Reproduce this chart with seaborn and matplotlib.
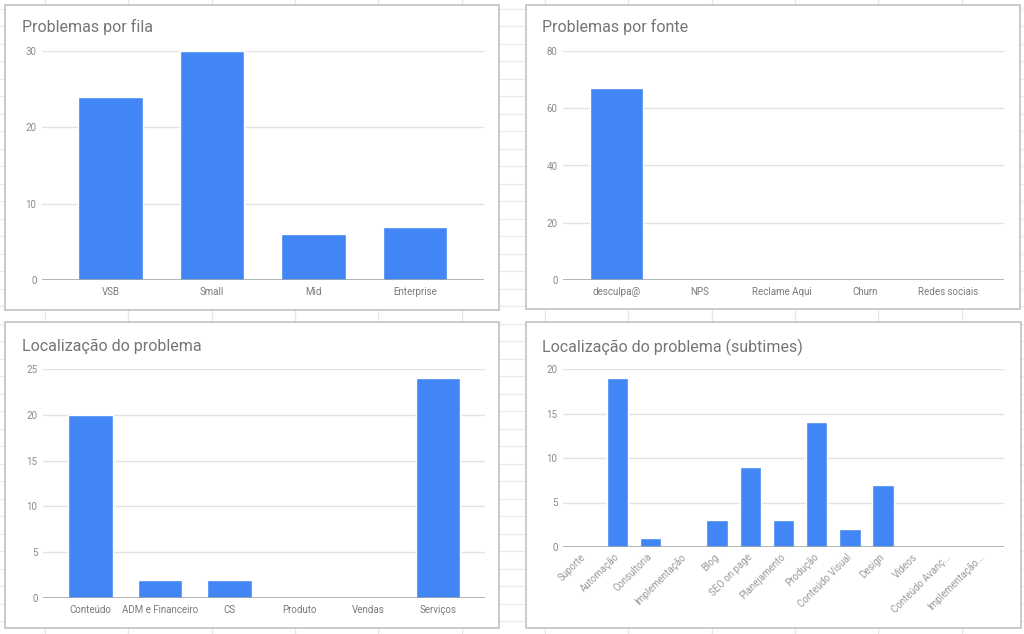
import matplotlib
matplotlib.use("Agg")
import matplotlib.pyplot as plt
import seaborn as sns
from matplotlib.patches import Rectangle

# ---------------- data ----------------
fila_cats = ["VSB", "Small", "Mid", "Enterprise"]
fila_vals = [24, 30, 6, 7]

fonte_cats = ["desculpa@", "NPS", "Reclame Aqui", "Churn", "Redes sociais"]
fonte_vals = [67, 0, 0, 0, 0]

local_cats = ["Conteúdo", "ADM e Financeiro", "CS", "Produto", "Vendas", "Serviços"]
local_vals = [20, 2, 2, 0, 0, 24]

sub_cats = ["Suporte", "Automação", "Consultoria", "Implementação", "Blog",
            "SEO on page", "Planejamento", "Produção", "Conteúdo Visual",
            "Design", "Vídeos", "Conteúdo Avanç...", "Implementação..."]
sub_vals = [0, 19, 1, 0, 3, 9, 3, 14, 2, 7, 0, 0, 0]

titles = ["Problemas por fila", "Problemas por fonte",
          "Localização do problema", "Localização do problema (subtimes)"]

# ---------------- style ----------------
sns.set_theme(style="white")
plt.rcParams["font.family"] = ["Roboto", "DejaVu Sans"]

W, H = 1024, 634
fig = plt.figure(figsize=(W / 100, H / 100), dpi=100)
fig.patch.set_facecolor("white")

BAR = "#4285F4"
GRID = "#e3e3e3"
ZERO = "#9aa0a6"
TICK = "#8a8a8a"
TITLE = "#757575"

# background spreadsheet layer
bg = fig.add_axes([0, 0, 1, 1])
bg.set_xlim(0, W)
bg.set_ylim(H, 0)
bg.axis("off")
for k in range(13):
    x = 45 + 83.33 * k
    bg.plot([x, x], [0, H], color="#e6e6e6", lw=0.9, zorder=0)
for k in range(37):
    y = 8.5 + 17.5 * k
    bg.plot([0, W], [y, y], color="#ebebeb", lw=0.9, zorder=0)

boxes = [(5, 5, 499, 310), (526, 5, 1020, 309), (5, 322, 499, 628), (526, 322, 1021, 628)]
for (x0, y0, x1, y1) in boxes:
    bg.add_patch(Rectangle((x0, y0), x1 - x0, y1 - y0, facecolor="white",
                           edgecolor="#bdbdbd", lw=1.1, zorder=2))

title_pos = [(22, 27), (542, 27), (22, 346), (542, 347)]
for t, (tx, ty) in zip(titles, title_pos):
    bg.text(tx, ty, t, fontsize=11.5, color=TITLE, va="center", ha="left", zorder=3)


def add_ax(x0, y0, x1, y1):
    return fig.add_axes([x0 / W, 1 - y1 / H, (x1 - x0) / W, (y1 - y0) / H])


def draw(ax, cats, vals, ymax, step, xlim, rot=False):
    ax.set_facecolor("none")
    sns.barplot(x=cats, y=vals, order=cats, color=BAR, saturation=1,
                width=0.64, ax=ax, zorder=3)
    ax.set_xlim(*xlim)
    ax.set_ylim(0, ymax)
    ax.set_yticks(list(range(0, ymax + 1, step)))
    for v in range(step, ymax + 1, step):
        ax.axhline(v, color=GRID, lw=1.0, zorder=1)
    ax.axhline(0, color=ZERO, lw=1.1, zorder=4)
    for s in ax.spines.values():
        s.set_visible(False)
    ax.tick_params(axis="y", length=0, pad=4, labelsize=7, labelcolor=TICK)
    ax.tick_params(axis="x", length=0, pad=5, labelsize=7, labelcolor="#7a7a7a")
    ax.set_xlabel("")
    ax.set_ylabel("")
    if rot:
        for lab in ax.get_xticklabels():
            lab.set_rotation(45)
            lab.set_ha("right")
            lab.set_rotation_mode("anchor")
            lab.set_va("center")
            lab.set_color("#9a9a9a")
        ax.tick_params(axis="x", pad=6)


ax1 = add_ax(42, 51, 484, 280)
draw(ax1, fila_cats, fila_vals, 30, 10, (-0.675, 3.68))

ax2 = add_ax(563, 51, 1004, 280)
draw(ax2, fonte_cats, fonte_vals, 80, 20, (-0.65, 4.68))

ax3 = add_ax(43, 369, 485, 598)
draw(ax3, local_cats, local_vals, 25, 5, (-0.686, 5.674))

ax4 = add_ax(563, 369, 1004, 547)
draw(ax4, sub_cats, sub_vals, 20, 5, (-0.64, 12.64), rot=True)

fig.savefig("out.png", dpi=100, facecolor="white")
